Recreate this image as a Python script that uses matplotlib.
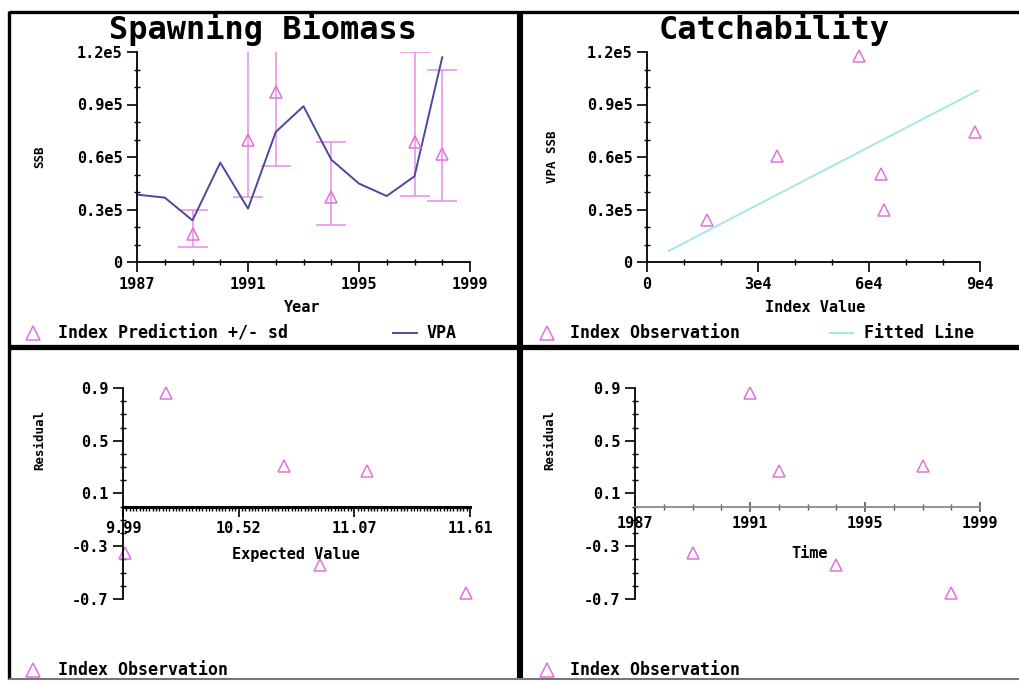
#! usr/bin/env python3

import numpy as np
import matplotlib
matplotlib.use("Agg")
import matplotlib.pyplot as plt
from matplotlib.lines import Line2D

#	data
years = [1987, 1988, 1989, 1990, 1991, 1992, 1993, 1994, 1995, 1996, 1997, 1998]
vpa_ssb = [38500, 36800, 23800, 56800, 30500, 74300, 89000, 58500, 44800, 37700, 49000, 117000]

idx_years = [1989, 1991, 1992, 1994, 1997, 1998]
idx_pred = [16200, 69500, 97000, 37000, 68600, 61500]
idx_lo = [8600, 37000, 54900, 21300, 38000, 34700]
idx_hi = [29500, 125000, 125000, 68600, 120000, 110000]

idx_obs = [16200, 35100, 57200, 63200, 64100, 88700]
obs_ssb = [23800, 60400, 118000, 50500, 29900, 74300]
fit_x = [5850, 89500]
fit_y = [6300, 98100]

exp_value = [10.19, 10.74, 11.13, 10.0, 10.91, 11.59]
resid_exp = [0.862, 0.305, 0.267, -0.353, -0.44, -0.657]
resid_years = [1991, 1992, 1989, 1994, 1997, 1998]
resid_time = [0.862, 0.267, -0.353, -0.44, 0.305, -0.657]

ssb_ticks = [0, 30000, 60000, 90000, 120000]
ssb_labels = ['0', '0.3e5', '0.6e5', '0.9e5', '1.2e5']
yr_ticks = [1987, 1991, 1995, 1999]
idx_ticks = [0, 30000, 60000, 90000]
idx_labels = ['0', '3e4', '6e4', '9e4']
res_ticks = [0.9, 0.5, 0.1, -0.3, -0.7]
res_labels = ['0.9', '0.5', '0.1', '-0.3', '-0.7']
exp_ticks = [9.99, 10.53, 11.07, 11.61]
exp_labels = ['9.99', '10.52', '11.07', '11.61']

pink = '#e070e0'
pink_bar = '#ea8cea'
vpa_col = '#4a4a9c'
fit_col = '#a6e6e6'
mono = 'DejaVu Sans Mono'

W, H = 1020, 681
fig = plt.figure(figsize=(W / 100, H / 100), dpi=100)

def box(x0, y0, x1, y1):
    # pixel box (top-left origin) -> axes rect
    return [x0 / W, 1 - y1 / H, (x1 - x0) / W, (y1 - y0) / H]

def fx(x):
    return x / W

def fy(y):
    return 1 - y / H

def style(ax, color='black'):
    ax.spines['top'].set_visible(False)
    ax.spines['right'].set_visible(False)
    for s in ['left', 'bottom']:
        ax.spines[s].set_color(color)
        ax.spines[s].set_linewidth(1.3)
    ax.tick_params(which='major', length=7, width=1.2, color=color, direction='out', labelsize=11)
    ax.tick_params(which='minor', length=4, width=1, color=color, direction='inout')
    for lab in ax.get_xticklabels() + ax.get_yticklabels():
        lab.set_fontfamily(mono)
        lab.set_fontweight('bold')

mk = dict(mfc='none', mec=pink, ms=9, mew=1.1)

#	top left: spawning biomass
ax1 = fig.add_axes(box(137, 52, 470, 262))
ax1.errorbar(idx_years, idx_pred,
             yerr=[np.array(idx_pred) - np.array(idx_lo), np.array(idx_hi) - np.array(idx_pred)],
             fmt='^', ecolor=pink_bar, elinewidth=1.1, capsize=11, **mk)
ax1.plot(years, vpa_ssb, color=vpa_col, lw=1.4)
ax1.set_xlim(1987, 1999)
ax1.set_ylim(0, 120000)
ax1.set_xticks(yr_ticks)
ax1.set_xticks(np.arange(1987, 2000, 1), minor=True)
ax1.set_yticks(ssb_ticks, ssb_labels)
ax1.set_yticks(np.arange(0, 120001, 10000), minor=True)
style(ax1)

#	top right: catchability
ax2 = fig.add_axes(box(647, 52, 980, 262))
ax2.plot(fit_x, fit_y, color=fit_col, lw=1.4)
ax2.plot(idx_obs, obs_ssb, '^', clip_on=False, **mk)
ax2.set_xlim(0, 90000)
ax2.set_ylim(0, 120000)
ax2.set_xticks(idx_ticks, idx_labels)
ax2.set_xticks(np.arange(0, 90001, 10000), minor=True)
ax2.set_yticks(ssb_ticks, ssb_labels)
ax2.set_yticks(np.arange(0, 120001, 10000), minor=True)
style(ax2)

#	bottom left: residual vs expected
ax3 = fig.add_axes(box(123, 388, 470, 599))
ax3.plot(exp_value, resid_exp, '^', clip_on=False, **mk)
ax3.set_xlim(9.99, 11.61)
ax3.set_ylim(-0.7, 0.9)
ax3.spines['bottom'].set_position(('data', 0))
ax3.set_xticks(exp_ticks, exp_labels)
ax3.set_xticks(np.linspace(9.99, 11.61, 106), minor=True)
ax3.set_yticks(res_ticks, res_labels)
ax3.set_yticks(np.arange(-0.7, 0.91, 0.1), minor=True)
style(ax3)
ax3.spines['bottom'].set_linewidth(2.2)
ax3.tick_params(axis='x', which='minor', length=3, direction='out')

#	bottom right: residual vs time
ax4 = fig.add_axes(box(635, 388, 980, 599))
ax4.plot(resid_years, resid_time, '^', clip_on=False, **mk)
ax4.set_xlim(1987, 1999)
ax4.set_ylim(-0.7, 0.9)
ax4.spines['bottom'].set_position(('data', 0))
ax4.set_xticks(yr_ticks)
ax4.set_xticks(np.arange(1987, 2000, 1), minor=True)
ax4.set_yticks(res_ticks, res_labels)
ax4.set_yticks(np.arange(-0.7, 0.91, 0.1), minor=True)
style(ax4)
ax4.spines['bottom'].set_color('#8a8a8a')
ax4.tick_params(axis='x', which='both', color='#555555', direction='inout')

#	titles and axis labels
tkw = dict(family=mono, weight='bold', ha='center', va='center')
fig.text(fx(263), fy(29), 'Spawning Biomass', fontsize=23, **tkw)
fig.text(fx(774), fy(29), 'Catchability', fontsize=23, **tkw)
fig.text(fx(302), fy(308), 'Year', fontsize=11, **tkw)
fig.text(fx(815), fy(308), 'Index Value', fontsize=11, **tkw)
fig.text(fx(296), fy(554), 'Expected Value', fontsize=11, **tkw)
fig.text(fx(810), fy(554), 'Time', fontsize=11, **tkw)
fig.text(fx(40), fy(157), 'SSB', fontsize=9, rotation=90, **tkw)
fig.text(fx(553), fy(157), 'VPA SSB', fontsize=9, rotation=90, **tkw)
fig.text(fx(40), fy(440), 'Residual', fontsize=9, rotation=90, **tkw)
fig.text(fx(550), fy(440), 'Residual', fontsize=9, rotation=90, **tkw)

#	legends
lkw = dict(family=mono, weight='bold', ha='left', va='center', fontsize=12)
def tri_key(x, y):
    fig.add_artist(Line2D([fx(x)], [fy(y)], marker='^', mfc='none', mec=pink, ms=10, mew=1.1,
                          transform=fig.transFigure))

def line_key(x0, x1, y, color):
    fig.add_artist(Line2D([fx(x0), fx(x1)], [fy(y), fy(y)], color=color, lw=1.4,
                          transform=fig.transFigure))

tri_key(33, 333)
fig.text(fx(58), fy(333), 'Index Prediction +/- sd', **lkw)
line_key(393, 417, 333, vpa_col)
fig.text(fx(427), fy(333), 'VPA', **lkw)
tri_key(547, 333)
fig.text(fx(570), fy(333), 'Index Observation', **lkw)
line_key(830, 853, 333, fit_col)
fig.text(fx(864), fy(333), 'Fitted Line', **lkw)
tri_key(33, 670)
fig.text(fx(58), fy(670), 'Index Observation', **lkw)
tri_key(547, 670)
fig.text(fx(570), fy(670), 'Index Observation', **lkw)

#	panel frames
def frame(x0, y0, x1, y1, lw, color='black'):
    fig.add_artist(Line2D([fx(x0), fx(x1)], [fy(y0), fy(y1)], color=color, lw=lw,
                          transform=fig.transFigure, solid_capstyle='butt'))

frame(9, 12, W, 12, 2.4)
frame(9, 11, 9, 679, 2.4)
frame(520, 11, 520, 679, 4.4)
frame(9, 347, W, 347, 3.8)
frame(9, 679, W, 679, 1.5, '#777777')

fig.savefig('out.png', dpi=100)
